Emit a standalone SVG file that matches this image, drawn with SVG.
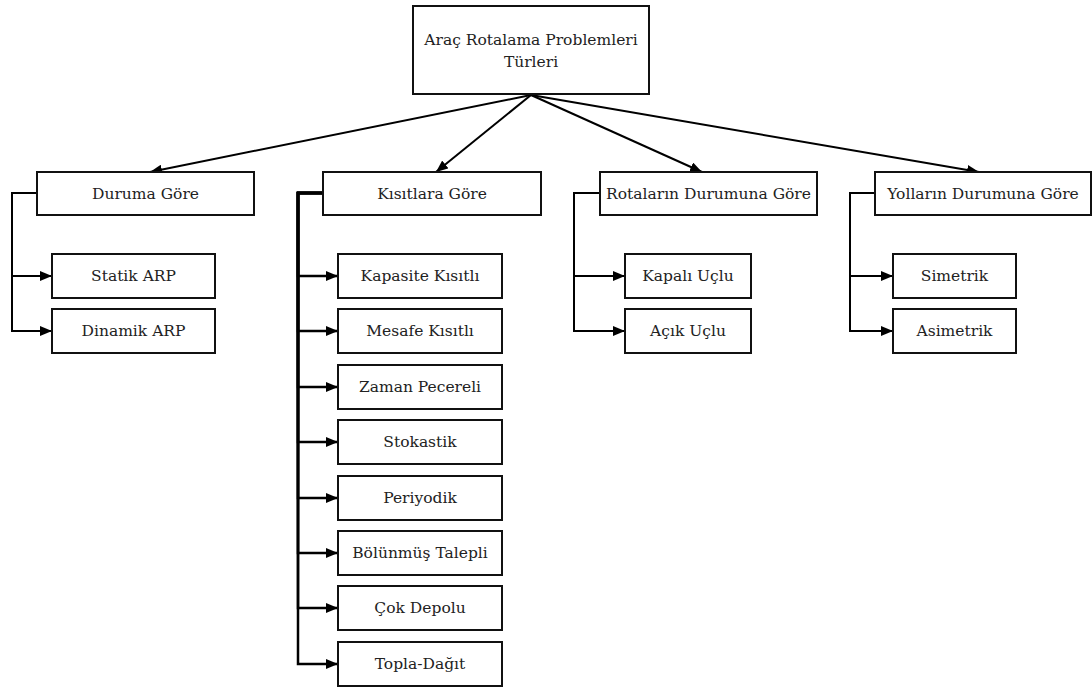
<svg xmlns="http://www.w3.org/2000/svg" width="1092" height="688" viewBox="0 0 1092 688">
  <defs>
    <marker id="arrow" markerUnits="userSpaceOnUse" markerWidth="12" markerHeight="10" refX="12" refY="5" orient="auto">
      <path d="M0,0 L12,5 L0,10 z" fill="#000"/>
    </marker>
    <style>
      .box { fill: #fff; stroke: #111; stroke-width: 2; }
      .lbl { font-family: "DejaVu Serif", serif; font-size: 15.5px; fill: #222; text-anchor: middle; dominant-baseline: central; }
      .edge { fill: none; stroke: #000; stroke-width: 2; marker-end: url(#arrow); }
      .trunk { stroke-width: 2.5; }
    </style>
  </defs>
  <rect width="1092" height="688" fill="#fff"/>

  <!-- connectors -->
  <g id="connectors">
    <!-- root to categories -->
    <path class="edge" d="M531,95 L150,172"/>
    <path class="edge" d="M531,95 L436,172"/>
    <path class="edge" d="M531,95 L702,172"/>
    <path class="edge" d="M531,95 L979,172"/>
    <!-- Duruma Göre -->
    <path class="edge" d="M37,193 H12 V276 H52"/>
    <path class="edge" d="M37,193 H12 V331 H52"/>
    <!-- Kısıtlara Göre -->
    <path class="edge trunk" d="M323,193 H298 V276 H338"/>
    <path class="edge trunk" d="M323,193 H298 V331 H338"/>
    <path class="edge trunk" d="M323,193 H298 V387 H338"/>
    <path class="edge trunk" d="M323,193 H298 V442 H338"/>
    <path class="edge trunk" d="M323,193 H298 V498 H338"/>
    <path class="edge trunk" d="M323,193 H298 V553 H338"/>
    <path class="edge trunk" d="M323,193 H298 V608 H338"/>
    <path class="edge trunk" d="M323,193 H298 V664 H338"/>
    <!-- Rotaların Durumuna Göre -->
    <path class="edge" d="M600,193 H574 V276 H625"/>
    <path class="edge" d="M600,193 H574 V331 H625"/>
    <!-- Yolların Durumuna Göre -->
    <path class="edge" d="M875,193 H850 V276 H893"/>
    <path class="edge" d="M875,193 H850 V331 H893"/>
  </g>

  <!-- root -->
  <g id="root">
    <rect class="box" x="413" y="6" width="236" height="88"/>
    <text class="lbl" x="531" y="40">Araç Rotalama Problemleri</text>
    <text class="lbl" x="531" y="62">Türleri</text>
  </g>

  <!-- categories -->
  <g id="duruma">
    <rect class="box" x="37" y="172" width="217" height="43"/>
    <text class="lbl" x="145.5" y="193.5">Duruma Göre</text>
  </g>
  <g id="kisitlara">
    <rect class="box" x="323" y="172" width="218" height="43"/>
    <text class="lbl" x="432" y="193.5">Kısıtlara Göre</text>
  </g>
  <g id="rotalarin">
    <rect class="box" x="600" y="172" width="217" height="43"/>
    <text class="lbl" x="708.5" y="193.5">Rotaların Durumuna Göre</text>
  </g>
  <g id="yollarin">
    <rect class="box" x="875" y="172" width="216" height="43"/>
    <text class="lbl" x="983" y="193.5">Yolların Durumuna Göre</text>
  </g>

  <!-- Duruma Göre children -->
  <g id="statik">
    <rect class="box" x="52" y="254" width="163" height="44"/>
    <text class="lbl" x="133.5" y="276">Statik ARP</text>
  </g>
  <g id="dinamik">
    <rect class="box" x="52" y="309" width="163" height="44"/>
    <text class="lbl" x="133.5" y="331">Dinamik ARP</text>
  </g>

  <!-- Kısıtlara Göre children -->
  <g id="kapasite">
    <rect class="box" x="338" y="254" width="164" height="44"/>
    <text class="lbl" x="420" y="276">Kapasite Kısıtlı</text>
  </g>
  <g id="mesafe">
    <rect class="box" x="338" y="309" width="164" height="44"/>
    <text class="lbl" x="420" y="331">Mesafe Kısıtlı</text>
  </g>
  <g id="zaman">
    <rect class="box" x="338" y="365" width="164" height="44"/>
    <text class="lbl" x="420" y="387">Zaman Pecereli</text>
  </g>
  <g id="stokastik">
    <rect class="box" x="338" y="420" width="164" height="44"/>
    <text class="lbl" x="420" y="442">Stokastik</text>
  </g>
  <g id="periyodik">
    <rect class="box" x="338" y="476" width="164" height="44"/>
    <text class="lbl" x="420" y="498">Periyodik</text>
  </g>
  <g id="bolunmus">
    <rect class="box" x="338" y="531" width="164" height="44"/>
    <text class="lbl" x="420" y="553">Bölünmüş Talepli</text>
  </g>
  <g id="cokdepolu">
    <rect class="box" x="338" y="586" width="164" height="44"/>
    <text class="lbl" x="420" y="608">Çok Depolu</text>
  </g>
  <g id="topladagit">
    <rect class="box" x="338" y="642" width="164" height="44"/>
    <text class="lbl" x="420" y="664">Topla-Dağıt</text>
  </g>

  <!-- Rotaların Durumuna Göre children -->
  <g id="kapali">
    <rect class="box" x="625" y="254" width="126" height="44"/>
    <text class="lbl" x="688" y="276">Kapalı Uçlu</text>
  </g>
  <g id="acik">
    <rect class="box" x="625" y="309" width="126" height="44"/>
    <text class="lbl" x="688" y="331">Açık Uçlu</text>
  </g>

  <!-- Yolların Durumuna Göre children -->
  <g id="simetrik">
    <rect class="box" x="893" y="254" width="123" height="44"/>
    <text class="lbl" x="954.5" y="276">Simetrik</text>
  </g>
  <g id="asimetrik">
    <rect class="box" x="893" y="309" width="123" height="44"/>
    <text class="lbl" x="954.5" y="331">Asimetrik</text>
  </g>
</svg>
